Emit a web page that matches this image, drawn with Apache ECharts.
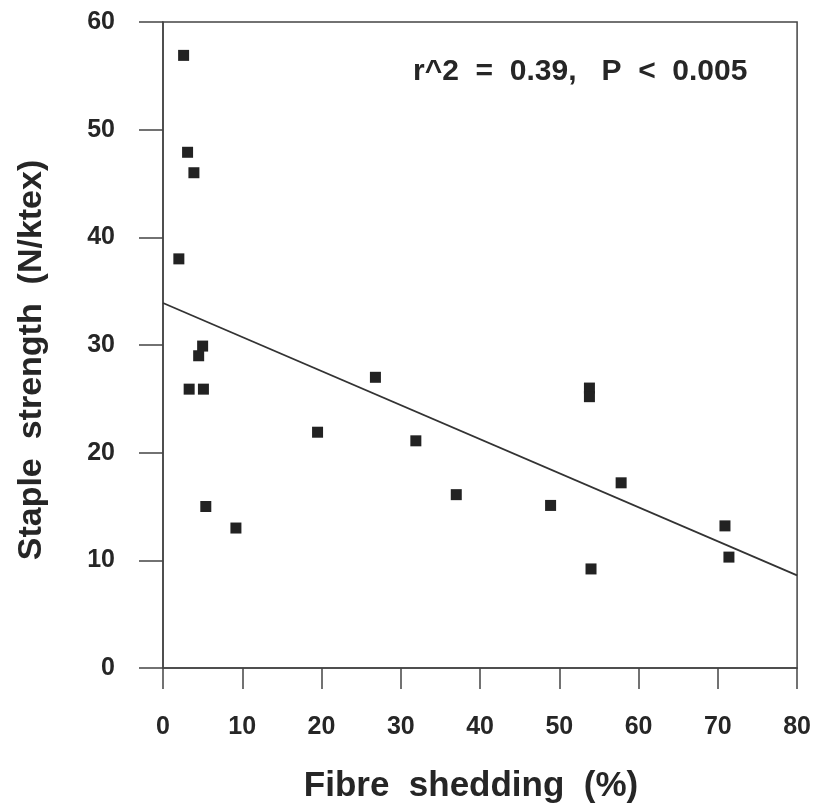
<!DOCTYPE html>
<html>
<head>
<meta charset="utf-8">
<script src="https://cdn.jsdelivr.net/npm/echarts@6/dist/echarts.min.js"></script>
<style>
  html, body { margin: 0; padding: 0; background: #fff; }
  #chart { width: 814px; height: 808px; }
</style>
</head>
<body>
<div id="chart"></div>
<script>
// Fibre shedding (%) vs staple strength (N/ktex)
const shedding = [2.6, 3.1, 3.9, 2.0, 5.0, 4.5, 3.3, 5.1, 5.4, 9.2, 19.5, 26.8, 31.9, 37.0, 48.9, 53.8, 53.8, 54.0, 57.8, 70.9, 71.4];
const strength = [56.9, 47.9, 46.0, 38.0, 29.9, 29.0, 25.9, 25.9, 15.0, 13.0, 21.9, 27.0, 21.1, 16.1, 15.1, 26.0, 25.2, 9.2, 17.2, 13.2, 10.3];

// Fitted regression line end points
const fitX = [0, 80];
const fitY = [33.9, 8.6];

const xTicks = [0, 10, 20, 30, 40, 50, 60, 70, 80];
const yTicks = [0, 10, 20, 30, 40, 50, 60];

const xTitle = 'Fibre  shedding  (%)';
const yTitle = 'Staple  strength  (N/ktex)';
const statText = 'r^2  =  0.39,   P  <  0.005';

const FONT = '"Liberation Sans", Arial, sans-serif';
const INK = '#262626';
const AXIS = '#444';

const chart = echarts.init(document.getElementById('chart'), null, { renderer: 'canvas' });

const points = shedding.map((x, i) => [x, strength[i]]);
const fit = fitX.map((x, i) => [x, fitY[i]]);

chart.setOption({
  animation: false,
  backgroundColor: '#ffffff',
  grid: {
    left: 163, right: 16, top: 22, bottom: 140,
    show: true, borderColor: AXIS, borderWidth: 1.5, backgroundColor: 'transparent'
  },
  xAxis: {
    type: 'value',
    min: xTicks[0], max: xTicks[xTicks.length - 1], interval: 10,
    axisLine: { show: true, onZero: false, lineStyle: { color: AXIS, width: 1.5 } },
    axisTick: { show: true, inside: false, length: 21, lineStyle: { color: AXIS, width: 1.5 } },
    axisLabel: { margin: 47, fontFamily: FONT, fontWeight: 'bold', fontSize: 25, color: INK },
    splitLine: { show: false }
  },
  yAxis: {
    type: 'value',
    min: yTicks[0], max: yTicks[yTicks.length - 1], interval: 10,
    axisLine: { show: true, onZero: false, lineStyle: { color: AXIS, width: 1.5 } },
    axisTick: { show: true, inside: false, length: 24, lineStyle: { color: AXIS, width: 1.5 } },
    axisLabel: { margin: 48, fontFamily: FONT, fontWeight: 'bold', fontSize: 25, color: INK },
    splitLine: { show: false }
  },
  graphic: [
    {
      type: 'text',
      x: 413, y: 72,
      style: { text: statText, font: 'bold 30px ' + FONT, fill: INK, textAlign: 'left', textVerticalAlign: 'middle' }
    },
    {
      type: 'text',
      x: 471, y: 786,
      style: { text: xTitle, font: 'bold 35px ' + FONT, fill: INK, textAlign: 'center', textVerticalAlign: 'middle' }
    },
    {
      type: 'text',
      x: 32, y: 360,
      rotation: Math.PI / 2,
      style: { text: yTitle, font: 'bold 34px ' + FONT, fill: INK, textAlign: 'center', textVerticalAlign: 'middle' }
    }
  ],
  series: [
    {
      type: 'line',
      data: fit,
      symbol: 'none',
      lineStyle: { color: '#333', width: 1.8 },
      z: 2
    },
    {
      type: 'scatter',
      data: points,
      symbol: 'rect',
      symbolSize: 11,
      itemStyle: { color: '#222', opacity: 1 },
      z: 3
    }
  ]
});
</script>
</body>
</html>
